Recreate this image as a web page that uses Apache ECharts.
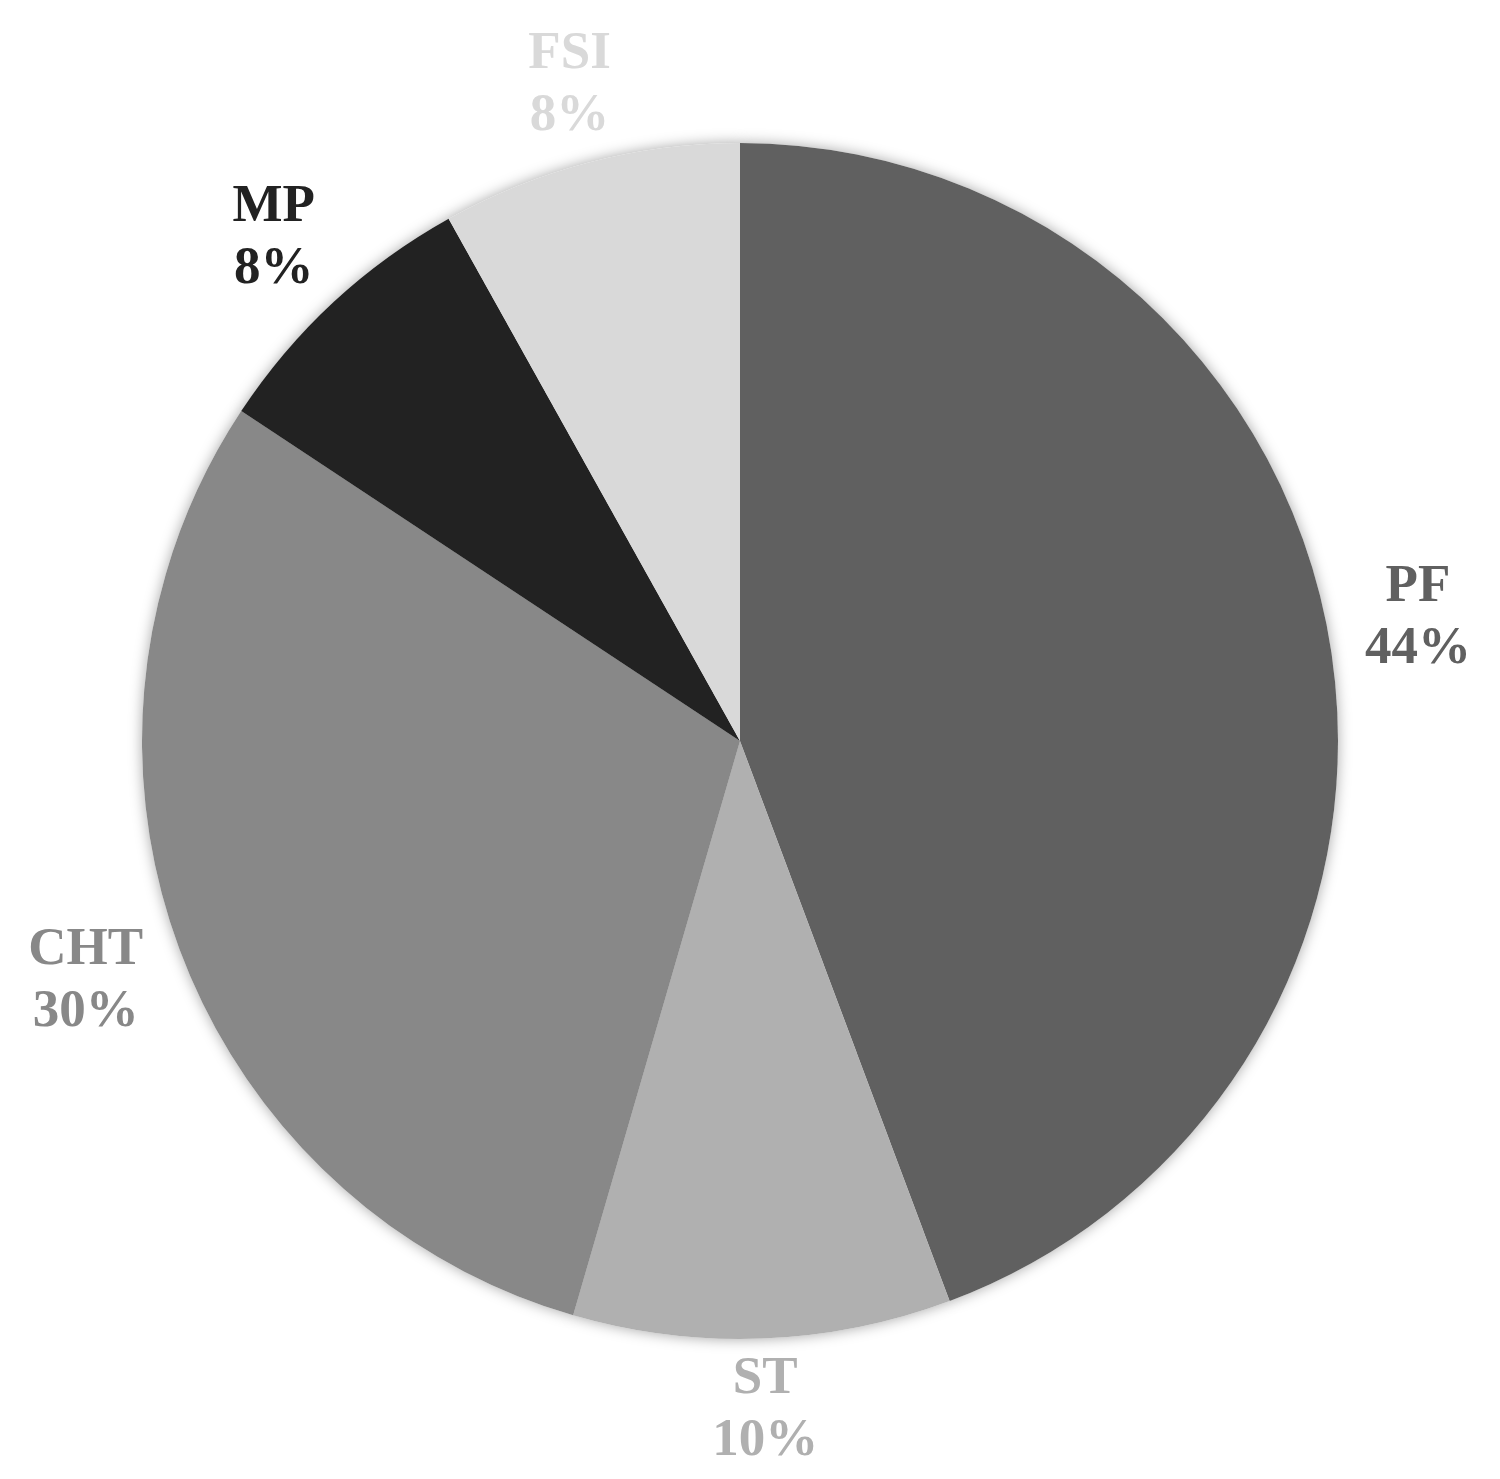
<!DOCTYPE html>
<html>
<head>
<meta charset="utf-8">
<script src="https://cdn.jsdelivr.net/npm/echarts@6/dist/echarts.min.js"></script>
<style>
  html, body { margin: 0; padding: 0; background: #fff; }
  #main { width: 1500px; height: 1479px; }
</style>
</head>
<body>
<div id="main"></div>
<script>
// slices, clockwise from 12 o'clock
var categories = ['PF', 'ST', 'CHT', 'MP', 'FSI'];
var shares = [44.3, 10.2, 29.8, 7.6, 8.1];
var colors = ['#606060', '#b0b0b0', '#888888', '#222222', '#d9d9d9'];

var CX = 740, CY = 741, R = 598;
var total = shares.reduce(function (a, b) { return a + b; }, 0);

// mid angle of each slice (radians, clockwise from top)
var midAngles = [];
var acc = 0;
shares.forEach(function (v) {
    midAngles.push((acc + v / 2) / total * Math.PI * 2);
    acc += v;
});

var myChart = echarts.init(document.getElementById('main'));

var pieData = categories.map(function (name, i) {
    return {
        name: name,
        value: shares[i],
        itemStyle: { color: colors[i] },
        label: { color: colors[i] }
    };
});

var option = {
    backgroundColor: '#ffffff',
    animation: false,
    series: [
        {
            // soft shadow under the whole pie
            type: 'pie',
            silent: true,
            z: 1,
            center: [CX, CY],
            radius: R,
            startAngle: 90,
            label: { show: false },
            labelLine: { show: false },
            itemStyle: {
                color: '#ffffff',
                shadowBlur: 14,
                shadowColor: 'rgba(0,0,0,0.35)'
            },
            data: shares.slice()
        },
        {
            name: 'share',
            type: 'pie',
            z: 2,
            center: [CX, CY],
            radius: R,
            startAngle: 90,
            clockwise: true,
            percentPrecision: 0,
            label: {
                show: true,
                position: 'outside',
                formatter: '{b}\n{d}%',
                fontFamily: 'Liberation Serif',
                fontWeight: 'bold',
                fontSize: 53,
                lineHeight: 62,
                align: 'center'
            },
            labelLine: { show: false },
            labelLayout: function (params) {
                // push the label box out along the slice's mid ray
                var a = midAngles[params.dataIndex];
                var ux = Math.sin(a), uy = -Math.cos(a);
                var w = params.labelRect.width;
                var d = R + 32 + Math.abs(ux) * w / 2 + Math.abs(uy) * 38;
                return {
                    x: CX + ux * d,
                    y: CY + uy * d,
                    align: 'center',
                    verticalAlign: 'middle'
                };
            },
            data: pieData
        }
    ]
};

myChart.setOption(option);
</script>
</body>
</html>
